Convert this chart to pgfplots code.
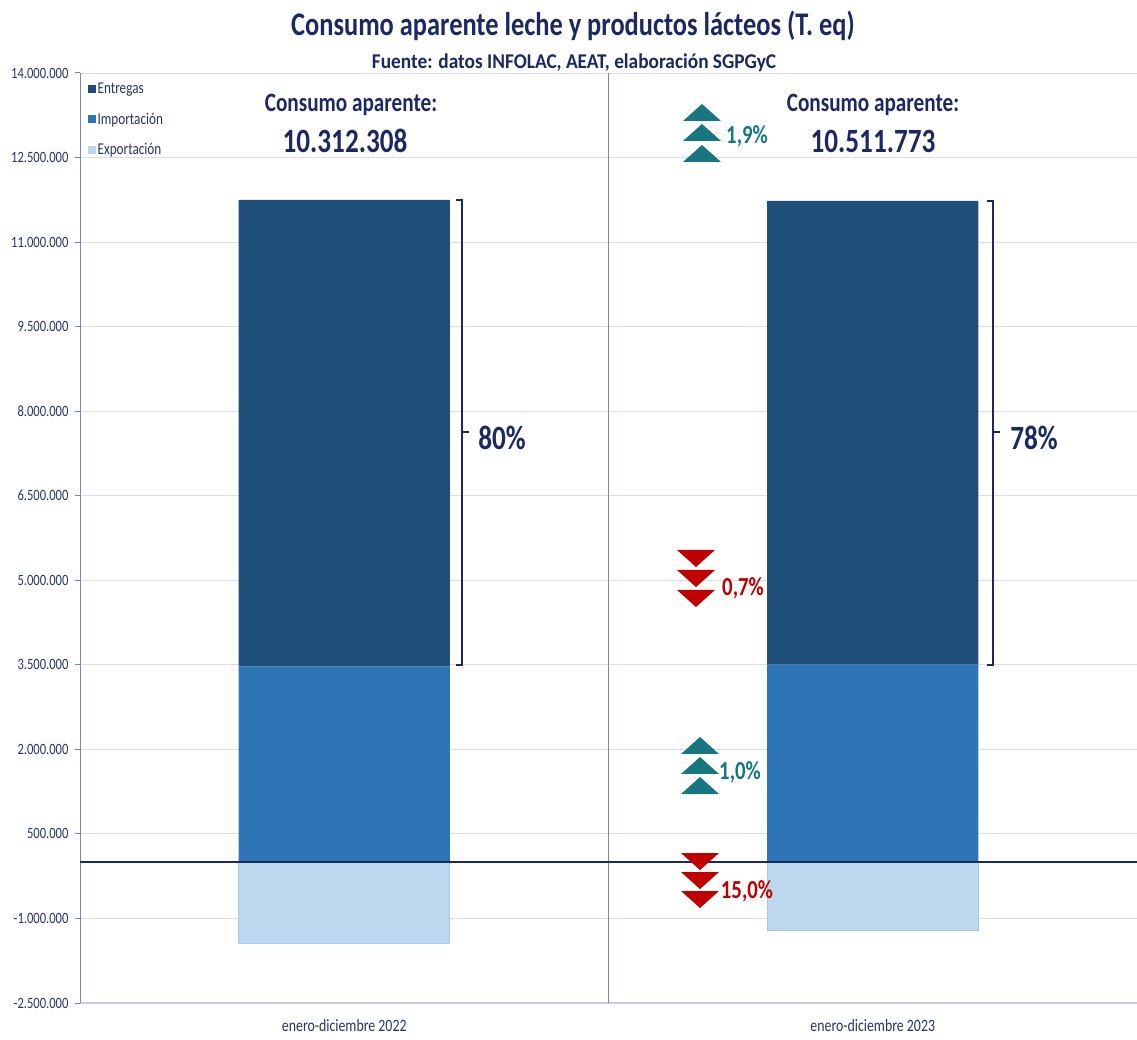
\documentclass[border=0pt]{standalone}
\usepackage{pgfplots}
\pgfplotsset{compat=1.18}
\usepackage{fontspec}
\setmainfont{Carlito}[FakeStretch=0.8]
\newfontfamily\subfont{Carlito}[FakeStretch=0.92]
\definecolor{entregas}{RGB}{31,78,121}
\definecolor{importa}{RGB}{46,117,182}
\definecolor{exporta}{RGB}{189,215,238}
\definecolor{navy}{RGB}{28,40,100}
\definecolor{ticknavy}{RGB}{40,52,100}
\definecolor{tealc}{RGB}{23,118,128}
\definecolor{darkred}{RGB}{192,0,0}
\definecolor{gridc}{RGB}{220,220,234}
\definecolor{sepc}{RGB}{120,135,170}
\newcommand{\uptri}[3]{\fill[#3] (#1-19,1039-#2-17) -- (#1+19,1039-#2-17) -- (#1,1039-#2) -- cycle;}
\newcommand{\dntri}[3]{\fill[#3] (#1-19,1039-#2) -- (#1+19,1039-#2) -- (#1,1039-#2-17) -- cycle;}
\pgfplotsset{common/.style={
  at={(80pt,36pt)}, anchor=south west,
  scale only axis, width=1057pt, height=930pt,
  xmin=-0.5, xmax=1.5, ymin=-2500000, ymax=14000000,
  bar width=0.4}}
\begin{document}
\begin{tikzpicture}[x=1pt,y=1pt]
\useasboundingbox (0,0) rectangle (1137,1039);
\begin{axis}[
  common,
  ybar stacked,
  ytick={-2500000,-1000000,...,14000000},
  scaled y ticks=false,
  /pgf/number format/assume math mode=true,
  ticklabel style={text=ticknavy},
  xtick={0,1}, xticklabels={enero-diciembre 2022, enero-diciembre 2023},
  xticklabel style={yshift=-8pt, font=\fontsize{17.3}{20}\selectfont},
  yticklabel style={xshift=-3pt, font=\fontsize{15.7}{18}\selectfont, /pgf/number format/.cd, fixed, precision=0, 1000 sep={.}},
  axis lines*=left,
  x axis line style={draw=gridc!80!sepc, line width=1.6pt},
  y axis line style={draw=sepc, line width=1pt},
  xtick style={draw=none},
  ytick style={draw=sepc, line width=1pt},
  tick align=outside, major tick length=5pt,
  ymajorgrids, grid style={draw=gridc, line width=0.9pt},
  legend image code/.code={\fill[#1, draw=none] (0pt,-4pt) rectangle (8pt,4pt);},
  legend style={at={(rel axis cs:0.007,0.992)}, anchor=north west, draw=none, fill=none,
    font=\fontsize{16.5}{19}\selectfont, text=ticknavy, row sep=14pt, inner sep=0pt,
    /tikz/every even column/.append style={column sep=2pt}},
  legend cell align=left,
]
\addlegendimage{fill=entregas}\addlegendentry{Entregas}
\addlegendimage{fill=importa}\addlegendentry{Importación}
\addlegendimage{fill=exporta}\addlegendentry{Exportación}
\addplot[fill=importa, draw=none] coordinates {(0,3470000) (1,3505000)};
\addplot[fill=entregas, draw=none] coordinates {(0,8280000) (1,8225000)};
\end{axis}
\begin{axis}[common, ybar, bar shift=0pt, hide axis]
\addplot[fill=exporta, draw=exporta!85!importa, line width=1pt] coordinates {(0,-1438000) (1,-1222000)};
\draw[sepc, line width=1pt] (axis cs:0.5,-2500000) -- (axis cs:0.5,14000000);
\draw[navy, line width=1.2pt] (axis cs:-0.5,0) -- (axis cs:1.5,0);
\end{axis}
% titles
\node[font=\bfseries\fontsize{33}{36}\selectfont, text=navy] at (573,1013) {Consumo aparente leche y productos lácteos (T. eq)};
\node[font=\subfont\bfseries\fontsize{21}{24}\selectfont, text=navy] at (574,976) {Fuente: datos INFOLAC, AEAT, elaboración SGPGyC};
% consumo labels
\node[font=\bfseries\fontsize{26.5}{30}\selectfont, text=navy] at (351,934) {Consumo aparente:};
\node[font=\bfseries\fontsize{34}{38}\selectfont, text=navy] at (345,898) {10.312.308};
\node[font=\bfseries\fontsize{26.5}{30}\selectfont, text=navy] at (873,934) {Consumo aparente:};
\node[font=\bfseries\fontsize{34}{38}\selectfont, text=navy] at (873,898) {10.511.773};
% brackets
\draw[navy, line width=2pt] (456,1039-200) -- (462,1039-200) -- (462,1039-665) -- (456,1039-665);
\draw[navy, line width=2pt] (462,1039-432) -- (469,1039-432);
\draw[navy, line width=2pt] (987,1039-201) -- (993,1039-201) -- (993,1039-665) -- (987,1039-665);
\draw[navy, line width=2pt] (993,1039-432) -- (1000,1039-432);
\node[font=\bfseries\fontsize{34}{38}\selectfont, text=navy] at (502,601) {80\%};
\node[font=\bfseries\fontsize{34}{38}\selectfont, text=navy] at (1034,601) {78\%};
% arrows
\uptri{702}{104}{tealc}\uptri{702}{124}{tealc}\uptri{702}{145}{tealc}
\node[font=\bfseries\fontsize{26}{30}\selectfont, text=tealc] at (747,1039-136) {1,9\%};
\dntri{696}{550}{darkred}\dntri{696}{570}{darkred}\dntri{696}{590}{darkred}
\node[font=\bfseries\fontsize{26}{30}\selectfont, text=darkred] at (743,1039-588) {0,7\%};
\uptri{700}{737}{tealc}\uptri{700}{757}{tealc}\uptri{700}{777}{tealc}
\node[font=\bfseries\fontsize{26}{30}\selectfont, text=tealc] at (740,1039-772) {1,0\%};
\dntri{700}{853}{darkred}\dntri{700}{872}{darkred}\dntri{700}{891}{darkred}
\node[font=\bfseries\fontsize{26}{30}\selectfont, text=darkred] at (747,1039-891) {15,0\%};
\end{tikzpicture}
\end{document}
